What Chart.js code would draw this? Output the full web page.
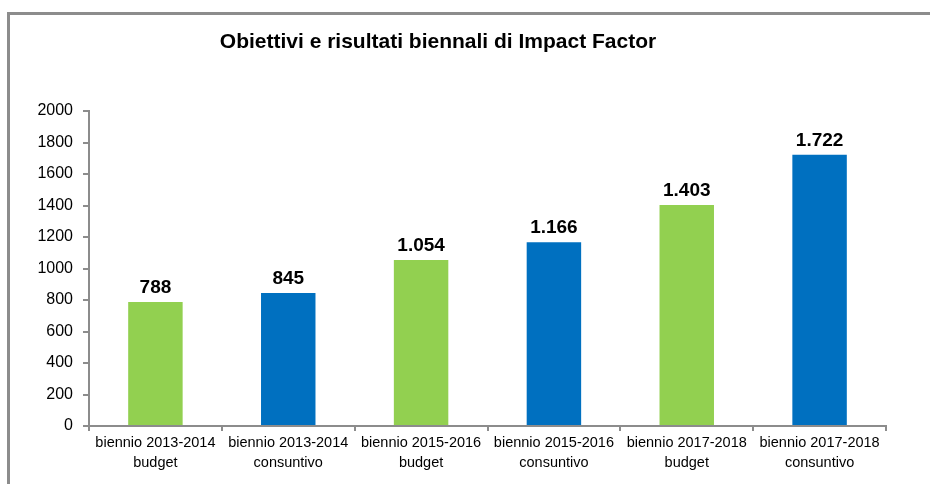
<!DOCTYPE html>
<html>
<head>
<meta charset="utf-8">
<script src="https://cdn.jsdelivr.net/npm/chart.js@4/dist/chart.umd.min.js"></script>
<style>
  html, body { margin: 0; padding: 0; background: #fff; overflow: hidden; }
  #wrap { position: relative; width: 930px; height: 484px; }
  #cornice { position: absolute; left: 7px; top: 12px; width: 1000px; height: 600px; border: 3px solid #8c8c8c; }
  #grafico { position: absolute; left: 0; top: 0; }
</style>
</head>
<body>
<div id="wrap">
  <div id="cornice"></div>
  <canvas id="grafico" width="930" height="484"></canvas>
</div>
<script>
// dati del grafico
var titolo = 'Obiettivi e risultati biennali di Impact Factor';
var categorie = [
  ['biennio 2013-2014', 'budget'],
  ['biennio 2013-2014', 'consuntivo'],
  ['biennio 2015-2016', 'budget'],
  ['biennio 2015-2016', 'consuntivo'],
  ['biennio 2017-2018', 'budget'],
  ['biennio 2017-2018', 'consuntivo']
];
var valori = [788, 845, 1054, 1166, 1403, 1722];
var colori = ['#92D050', '#0070C0', '#92D050', '#0070C0', '#92D050', '#0070C0'];
var asseY = { min: 0, max: 2000, passo: 200 };

// separatore delle migliaia all'italiana
function formatta(v) {
  return String(v).replace(/\B(?=(\d{3})+(?!\d))/g, '.');
}

// titolo disegnato a mano (non è centrato sul grafico)
var pluginTitolo = {
  id: 'titolo',
  afterDraw: function(chart) {
    var ctx = chart.ctx;
    ctx.save();
    ctx.font = 'bold 21px "Liberation Sans", Arial, sans-serif';
    ctx.fillStyle = '#000';
    ctx.textAlign = 'center';
    ctx.textBaseline = 'middle';
    ctx.fillText(titolo, 438, 42);
    ctx.restore();
  }
};

// etichette sopra le barre
var pluginEtichette = {
  id: 'etichette',
  afterDatasetsDraw: function(chart) {
    var ctx = chart.ctx;
    var meta = chart.getDatasetMeta(0);
    ctx.save();
    ctx.font = 'bold 19px "Liberation Sans", Arial, sans-serif';
    ctx.fillStyle = '#000';
    ctx.textAlign = 'center';
    ctx.textBaseline = 'alphabetic';
    meta.data.forEach(function(bar, i) {
      ctx.fillText(formatta(valori[i]), bar.x, bar.y - 9);
    });
    ctx.restore();
  }
};

var ctx = document.getElementById('grafico').getContext('2d');
var chart = new Chart(ctx, {
  type: 'bar',
  data: {
    labels: categorie,
    datasets: [{
      data: valori,
      backgroundColor: colori,
      borderWidth: 0,
      categoryPercentage: 1,
      barPercentage: 0.41
    }]
  },
  options: {
    responsive: false,
    animation: false,
    layout: { padding: { top: 111, right: 44, bottom: 0, left: 0 } },
    plugins: {
      legend: { display: false },
      title: { display: false },
      tooltip: { enabled: false }
    },
    scales: {
      x: {
        grid: { offset: true, drawOnChartArea: false, drawTicks: true, tickLength: 5, color: '#8c8c8c', lineWidth: 2 },
        border: { display: true, color: '#8c8c8c', width: 2 },
        ticks: {
          color: '#000',
          padding: 2,
          maxRotation: 0,
          autoSkip: false,
          font: { family: '"Liberation Sans", Arial, sans-serif', size: 14.5, lineHeight: 1.38 }
        },
        afterFit: function(s) { s.height = 58; }
      },
      y: {
        min: asseY.min,
        max: asseY.max,
        grid: { drawOnChartArea: false, drawTicks: true, tickLength: 6, color: '#8c8c8c', lineWidth: 2 },
        border: { display: true, color: '#8c8c8c', width: 2 },
        ticks: {
          stepSize: asseY.passo,
          color: '#000',
          padding: 10,
          callback: function(v) { return v; },
          font: { family: '"Liberation Sans", Arial, sans-serif', size: 16 }
        },
        afterFit: function(s) { s.width = 89; }
      }
    }
  },
  plugins: [pluginTitolo, pluginEtichette]
});
</script>
</body>
</html>
